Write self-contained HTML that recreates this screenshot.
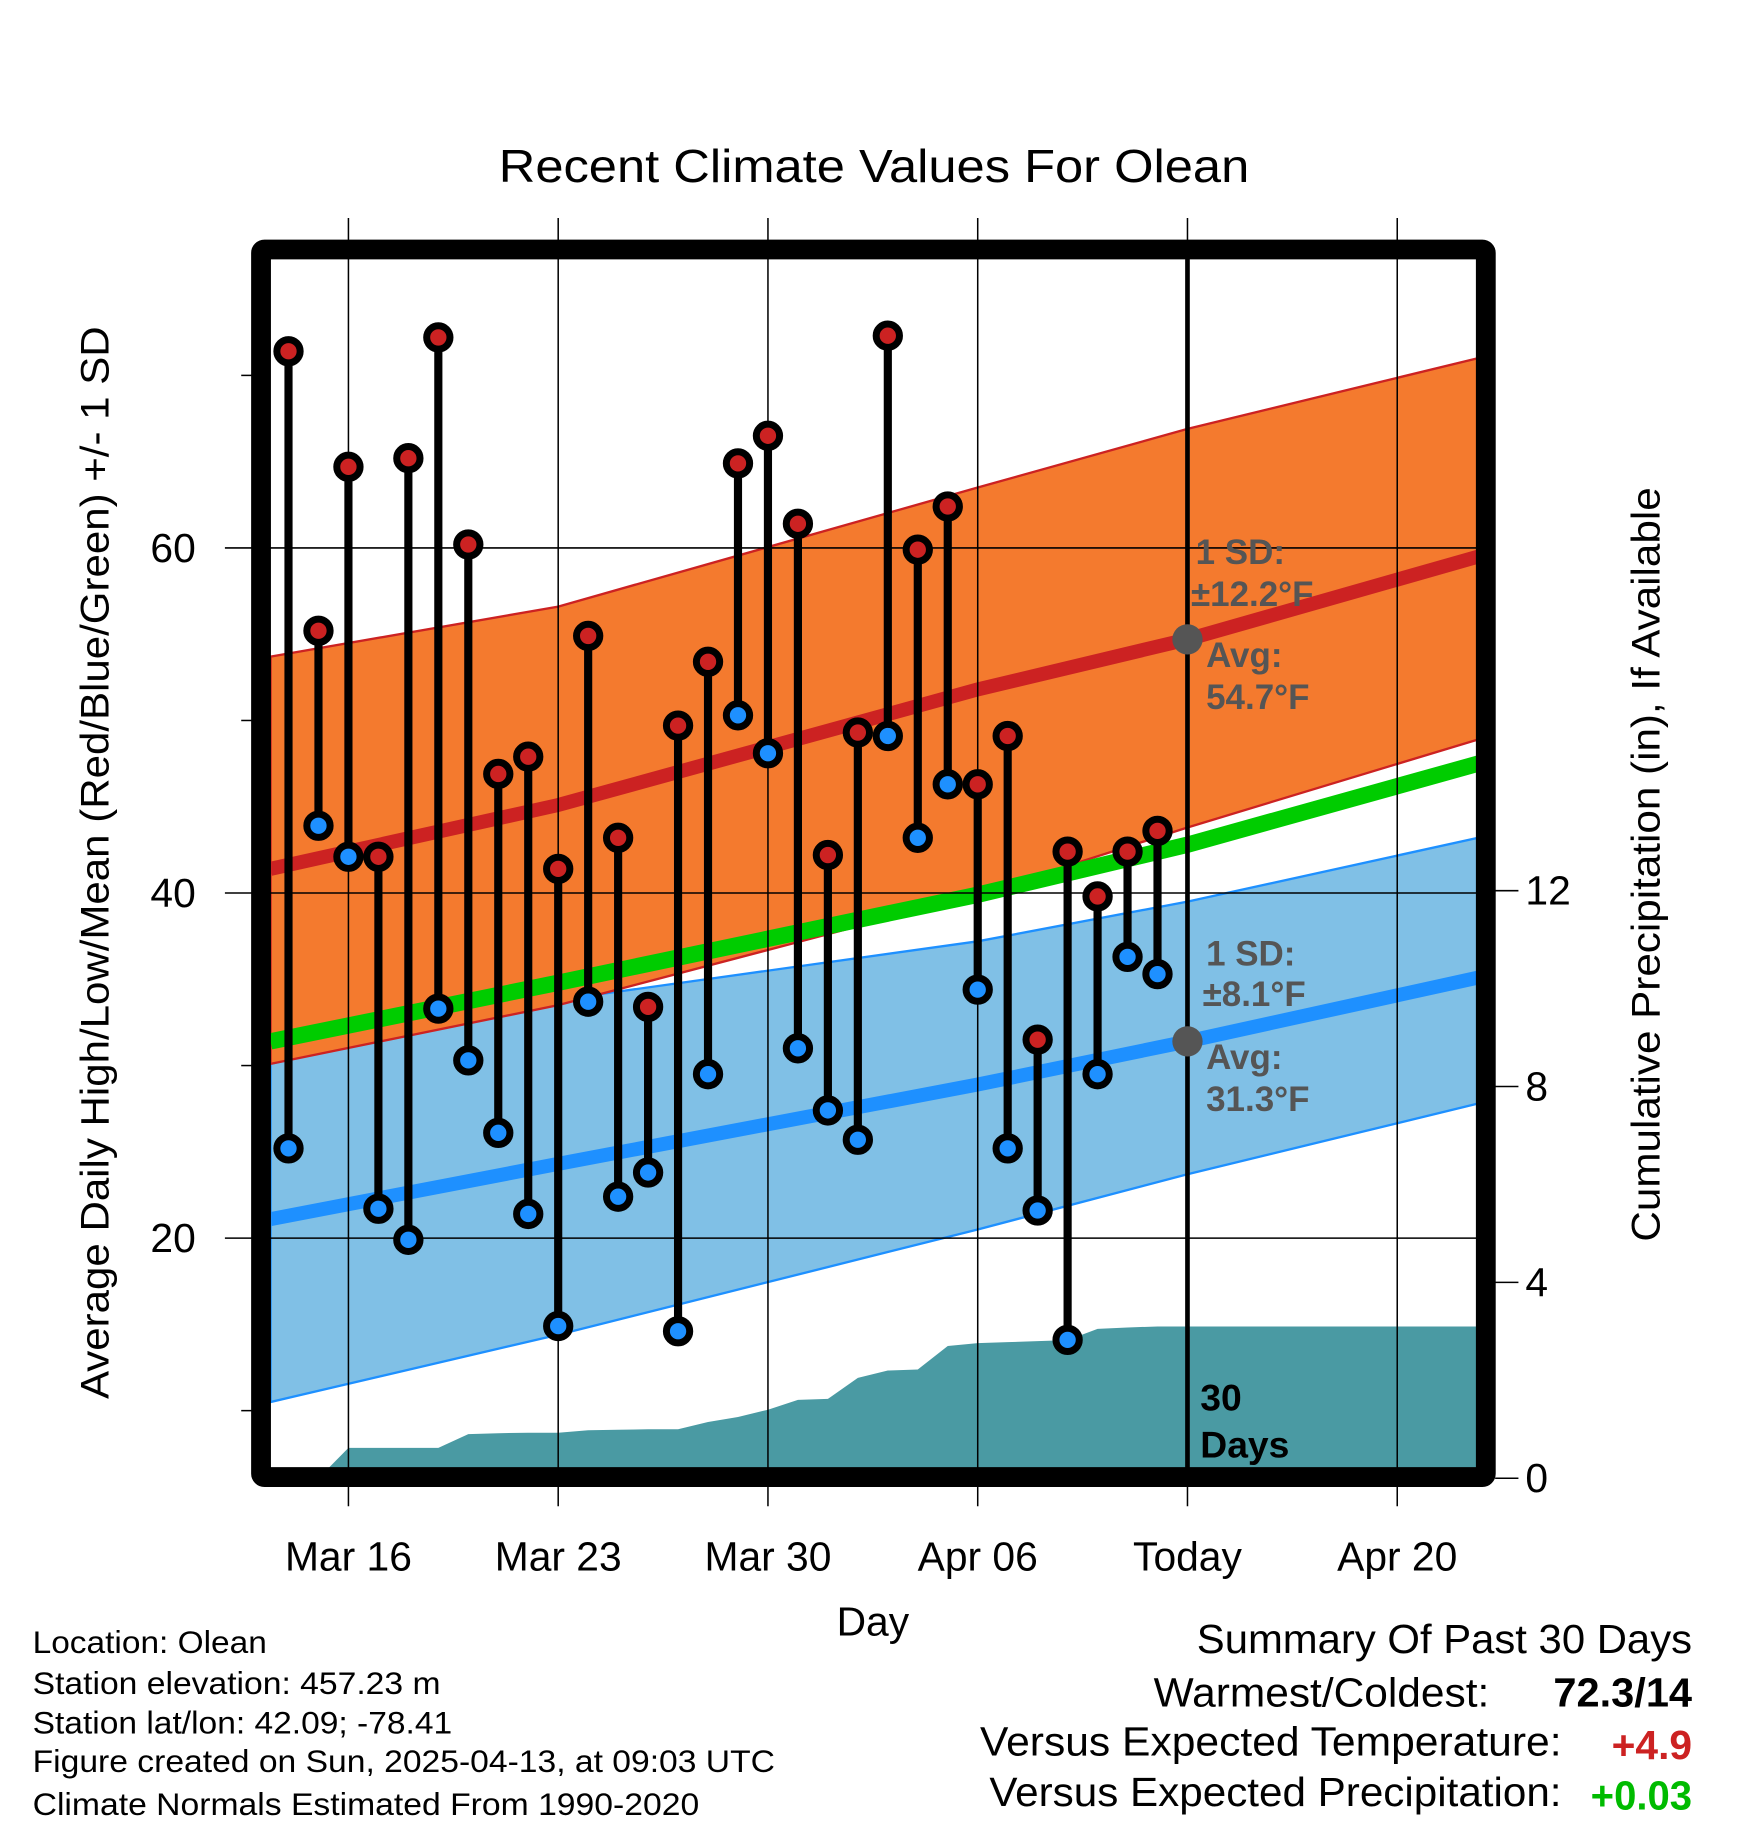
<!DOCTYPE html>
<html><head><meta charset="utf-8"><style>
html,body{margin:0;padding:0;background:#fff;}
body{position:relative;width:1748px;height:1828px;overflow:hidden;}
svg{display:block;font-family:"Liberation Sans",sans-serif;}
</style></head><body>
<svg id="chart" width="1748" height="1828" viewBox="0 0 1500 1568" preserveAspectRatio="none" xmlns="http://www.w3.org/2000/svg">
<defs><clipPath id="plotclip"><rect x="232" y="222" width="1036" height="1038"/></clipPath></defs>
<text x="428" y="156" font-size="40" textLength="644" lengthAdjust="spacingAndGlyphs">Recent Climate Values For Olean</text>
<g id="bands" clip-path="url(#plotclip)"></g>
<g id="grid"></g>
<g id="marks"></g>
<g id="frame"></g>
<g id="labels"></g>
</svg>
<script>
// ---- data ----
const dayOffsets = [-2,-1,0,1,2,3,4,5,6,7,8,9,10,11,12,13,14,15,16,17,18,19,20,21,22,23,24,25,26,27];
const highs = [71.4,55.2,64.7,42.1,65.2,72.2,60.2,46.9,47.9,41.4,54.9,43.2,33.4,49.7,53.4,64.9,66.5,61.4,42.2,49.3,72.3,59.9,62.4,46.3,49.1,31.5,42.4,39.8,42.4,43.6];
const lows = [25.2,43.9,42.1,21.7,19.9,33.3,30.3,26.1,21.4,14.9,33.7,22.4,23.8,14.6,29.5,50.3,48.1,31.0,27.4,25.7,49.1,43.2,46.3,34.4,25.2,21.6,14.1,29.5,36.3,35.3];
const precipCum = [0,0,0.62,0.62,0.62,0.62,0.9,0.92,0.93,0.93,0.98,0.99,1.0,1.0,1.15,1.25,1.4,1.6,1.62,2.05,2.2,2.22,2.7,2.76,2.78,2.8,2.82,3.05,3.08,3.1];
const normalDays = [-2.6,7,21,28,37.7];
const normHigh = [41.4,45.1,51.8,54.7,59.5];
const normHighUpper = [53.7,56.6,63.5,66.9,71.0];
const normHighLower = [30.1,33.5,39.9,43.8,48.9];
const normLow = [21.1,24.3,28.9,31.4,35.1];
const normLowUpper = [30.1,33.8,37.2,39.5,43.2];
const normLowLower = [10.5,14.4,20.5,23.7,27.8];
const normMean = [31.4,34.8,39.9,42.8,47.5];
const xTickDays = [0,7,14,21,28,35];
const xTickLabels = ["Mar 16","Mar 23","Mar 30","Apr 06","Today","Apr 20"];
const yTicks = [20,40,60];
const yMinorTicks = [10,30,50,70];
const pTicks = [0,4,8,12];

// ---- axes ----
const X = d => 299 + d*180/7;
const Y = v => 1062 - (v-20)*14.8;
const P = p => 1268 - 42*p;
const NS = "http://www.w3.org/2000/svg";
function mk(parent, tag, attrs){const e=document.createElementNS(NS,tag);for(const k in attrs)e.setAttribute(k,attrs[k]);parent.appendChild(e);return e;}
const bands=document.getElementById('bands'),grid=document.getElementById('grid'),marks=document.getElementById('marks'),frame=document.getElementById('frame'),labels=document.getElementById('labels');
function ptsLine(a){return normalDays.map((d,i)=>X(d)+','+Y(a[i])).join(' ');}
function ptsBand(u,l){return normalDays.map((d,i)=>X(d)+','+Y(u[i])).concat(normalDays.slice().reverse().map((d,j)=>{const i=normalDays.length-1-j;return X(d)+','+Y(l[i]);})).join(' ');}

let e;
e=mk(bands,'polygon',{points:ptsBand(normLowUpper,normLowLower),fill:'#80c0e6',stroke:'#1e90ff','stroke-width':2});


e=mk(bands,'polygon',{points:ptsBand(normHighUpper,normHighLower),fill:'#f47a2e',stroke:'#cc2222','stroke-width':2});


e=mk(bands,'polyline',{points:ptsLine(normMean),fill:'none',stroke:'#00cc00','stroke-width':14});


e=mk(bands,'polyline',{points:ptsLine(normHigh),fill:'none',stroke:'#cc2222','stroke-width':12});


e=mk(bands,'polyline',{points:ptsLine(normLow),fill:'none',stroke:'#1e90ff','stroke-width':12});


let pp=[X(dayOffsets[0])+','+P(0)];
dayOffsets.forEach((d,i)=>pp.push(X(d)+','+P(precipCum[i])));
pp.push('1275,'+P(precipCum[precipCum.length-1]));pp.push('1275,'+P(0));
e=mk(bands,'polygon',{points:pp.join(' '),fill:'#4a9aa3'});



xTickDays.forEach((d,i)=>{
  e=mk(grid,'line',{x1:X(d),x2:X(d),y1:187,y2:1292,stroke:'#000','stroke-width':1.3});
  
  
  e=mk(labels,'text',{x:X(d),y:1347,'font-size':35,'text-anchor':'middle'});e.textContent=xTickLabels[i];
  
  
});
yTicks.forEach(v=>{
  e=mk(grid,'line',{x1:193,x2:1268,y1:Y(v),y2:Y(v),stroke:'#000','stroke-width':1.3});
  
  
  e=mk(labels,'text',{x:168,y:Y(v)+12,'font-size':35,'text-anchor':'end'});e.textContent=v;
  
  
});
yMinorTicks.forEach(v=>{
  e=mk(grid,'line',{x1:207,x2:217,y1:Y(v),y2:Y(v),stroke:'#000','stroke-width':1.3});
  
  
});
pTicks.forEach(p=>{
  e=mk(grid,'line',{x1:1283,x2:1303,y1:P(p),y2:P(p),stroke:'#000','stroke-width':1.3});
  
  
  e=mk(labels,'text',{x:1309,y:P(p)+12,'font-size':35,'text-anchor':'start'});e.textContent=p;
  
  
});

e=mk(marks,'line',{x1:X(28),x2:X(28),y1:222,y2:1262,stroke:'#000','stroke-width':4});


e=mk(marks,'circle',{cx:X(28),cy:Y(normHigh[3]),r:13,fill:'#555'});


e=mk(marks,'circle',{cx:X(28),cy:Y(normLow[3]),r:13,fill:'#555'});



dayOffsets.forEach((d,i)=>{
  const x=X(d);
  e=mk(marks,'line',{x1:x,x2:x,y1:Y(highs[i]),y2:Y(lows[i]),stroke:'#000','stroke-width':7});
  
  
});
dayOffsets.forEach((d,i)=>{
  const x=X(d);
  e=mk(marks,'circle',{cx:x,cy:Y(highs[i]),r:10,fill:'#cc2222',stroke:'#000','stroke-width':6});
  
  
  e=mk(marks,'circle',{cx:x,cy:Y(lows[i]),r:10,fill:'#1e90ff',stroke:'#000','stroke-width':6});
  
  
});

e=mk(frame,'rect',{x:224,y:214,width:1051,height:1053,fill:'none',stroke:'#000','stroke-width':17,rx:3});


</script>
<svg style="position:absolute;left:0;top:0" width="1748" height="1828" viewBox="0 0 1500 1568" preserveAspectRatio="none" xmlns="http://www.w3.org/2000/svg" font-family="Liberation Sans, sans-serif">
<g fill="#555" font-weight="bold" font-size="30">
<text x="1026" y="484">1 SD:</text>
<text x="1022" y="520">±12.2°F</text>
<text x="1035" y="572">Avg:</text>
<text x="1035" y="608">54.7°F</text>
<text x="1035" y="828">1 SD:</text>
<text x="1032" y="863">±8.1°F</text>
<text x="1035" y="917">Avg:</text>
<text x="1035" y="953">31.3°F</text>
</g>
<g font-weight="bold" font-size="32" fill="#000">
<text x="1030" y="1210">30</text>
<text x="1030" y="1250">Days</text>
</g>
<text x="749" y="1403" font-size="35" text-anchor="middle">Day</text>
<text transform="translate(93,1200) rotate(-90)" font-size="34" textLength="920" lengthAdjust="spacingAndGlyphs">Average Daily High/Low/Mean (Red/Blue/Green) +/- 1 SD</text>
<text transform="translate(1424,1065) rotate(-90)" font-size="34" textLength="647" lengthAdjust="spacingAndGlyphs">Cumulative Precipitation (in), If Available</text>
<g font-size="27">
<text x="28" y="1418" textLength="201" lengthAdjust="spacingAndGlyphs">Location: Olean</text>
<text x="28" y="1453" textLength="350" lengthAdjust="spacingAndGlyphs">Station elevation: 457.23 m</text>
<text x="28" y="1487" textLength="360" lengthAdjust="spacingAndGlyphs">Station lat/lon: 42.09; -78.41</text>
<text x="28" y="1520" textLength="637" lengthAdjust="spacingAndGlyphs">Figure created on Sun, 2025-04-13, at 09:03 UTC</text>
<text x="28" y="1557" textLength="572" lengthAdjust="spacingAndGlyphs">Climate Normals Estimated From 1990-2020</text>
</g>
<g font-size="35">
<text x="1027" y="1418" textLength="425" lengthAdjust="spacingAndGlyphs">Summary Of Past 30 Days</text>
<text x="990" y="1464" textLength="288" lengthAdjust="spacingAndGlyphs">Warmest/Coldest:</text>
<text x="1333" y="1464" font-weight="bold" textLength="119" lengthAdjust="spacingAndGlyphs">72.3/14</text>
<text x="841" y="1506" textLength="499" lengthAdjust="spacingAndGlyphs">Versus Expected Temperature:</text>
<text x="1383" y="1509" font-weight="bold" fill="#cc2222" textLength="69" lengthAdjust="spacingAndGlyphs">+4.9</text>
<text x="849" y="1549" textLength="491" lengthAdjust="spacingAndGlyphs">Versus Expected Precipitation:</text>
<text x="1365" y="1552" font-weight="bold" fill="#00bb00" textLength="87" lengthAdjust="spacingAndGlyphs">+0.03</text>
</g>
</svg>
</body></html>
